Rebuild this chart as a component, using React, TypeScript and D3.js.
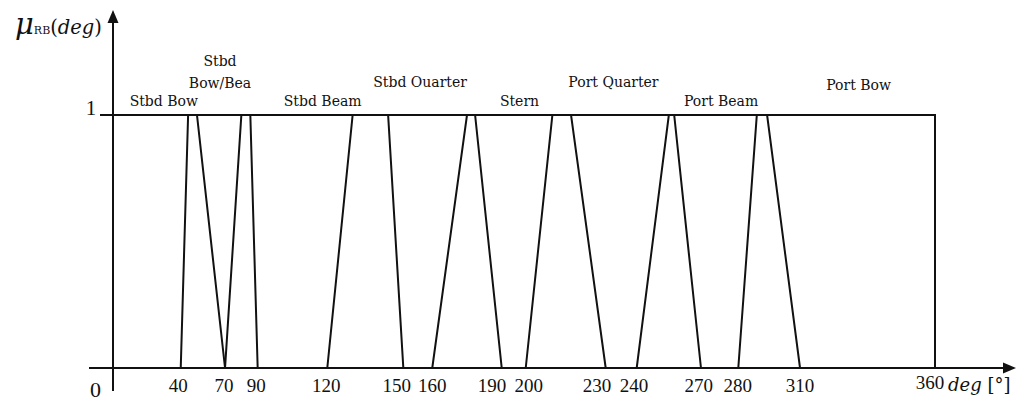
import React from 'react';
import * as d3 from 'd3';

// Relative-bearing fuzzy sets: trapezoids [a, b, c, d] in degrees
const setNames = ['Stbd Bow', 'Stbd Bow/Bea', 'Stbd Beam', 'Stbd Ouarter', 'Stern', 'Port Quarter', 'Port Beam', 'Port Bow'];
const footStart = [0, 40, 70, 120, 160, 200, 240, 280];
const shoulderStart = [0, 45, 80, 130, 175, 210, 255, 289];
const shoulderEnd = [51, 85.5, 144, 178.5, 217, 257.5, 294, 360];
const footEnd = [70, 90, 150, 190, 230, 270, 310, 360];

const tickValues = [40, 70, 90, 120, 150, 160, 190, 200, 230, 240, 270, 280, 310, 360];

// The schematic axis is not evenly spaced: fraction of the axis length at 0 and each tick
const axisStops = [0, 0.0824, 0.1363, 0.176, 0.2607, 0.3532, 0.3884, 0.4729, 0.5021, 0.5994, 0.6371, 0.7153, 0.7607, 0.8358, 1];
// Horizontal nudge (px) of each tick label so that close neighbours stay apart
const tickNudge = [-2.5, -1, -1.5, -1, -6.6, 0, -9.7, 3, -8.7, -2.7, -2.3, -0.6, 0, -5];

// Label placement: anchor (degrees), text lines, and height of the last line above μ = 1
const labelAnchor = [30, 66.6, 118, 155.8, 197.4, 232.5, 275.4, 331.7];
const labelLines = [['Stbd Bow'], ['Stbd', 'Bow/Bea'], ['Stbd Beam'], ['Stbd Ouarter'], ['Stern'], ['Port Quarter'], ['Port Beam'], ['Port Bow']];
const labelLift = [9, 27, 9, 28, 9, 28, 9, 25];

const W = 1032;
const H = 412;
const X0 = 113;
const X1 = 935;
const FONT = '"DejaVu Serif", serif';
const NUM_FONT = '"Liberation Serif", serif';
const INK = '#111';

export default function App() {
  const x = d3
    .scaleLinear()
    .domain([0, ...tickValues])
    .range(axisStops.map((f) => X0 + f * (X1 - X0)));
  const y = d3.scaleLinear().domain([0, 1]).range([368, 115]);

  const line = d3
    .line<[number, number]>()
    .x((d) => x(d[0]))
    .y((d) => y(d[1]));

  const shapes = setNames.map((name, i) => ({
    name,
    pts: [
      [footStart[i], 0],
      [shoulderStart[i], 1],
      [shoulderEnd[i], 1],
      [footEnd[i], 0],
    ] as [number, number][],
  }));

  const xAxisY = y(0);
  const xLeft = 89;
  const xTip = 1016;
  const yTop = 10;

  return (
    <svg
      width={W}
      height={H}
      viewBox={`0 0 ${W} ${H}`}
      style={{ position: 'absolute', left: 0, top: 0, display: 'block', background: '#fff' }}
    >
      <rect width={W} height={H} fill="#fff" />

      {/* axes */}
      <g stroke={INK} strokeWidth={2} fill="none">
        <line x1={xLeft} y1={xAxisY} x2={xTip - 10} y2={xAxisY} />
        <line x1={X0} y1={391} x2={X0} y2={yTop + 10} />
        <line x1={100} y1={y(1)} x2={X0} y2={y(1)} />
      </g>
      <path d={`M${xTip},${xAxisY} L${xTip - 13},${xAxisY - 5.5} L${xTip - 13},${xAxisY + 5.5} Z`} fill={INK} />
      <path d={`M${X0},${yTop} L${X0 - 5.5},${yTop + 13} L${X0 + 5.5},${yTop + 13} Z`} fill={INK} />

      {/* membership functions */}
      <g fill="none" stroke={INK} strokeWidth={2} strokeLinejoin="miter">
        {shapes.map((s) => (
          <path key={s.name} d={line(s.pts) ?? ''} />
        ))}
      </g>

      {/* set labels */}
      <g fontFamily={FONT} fontSize={14} fill={INK} textAnchor="middle">
        {setNames.map((name, i) => {
          const lines = labelLines[i];
          const base = y(1) - labelLift[i];
          return (
            <text key={name} x={x(labelAnchor[i])} y={base - (lines.length - 1) * 22}>
              {lines.map((t, j) => (
                <tspan key={j} x={x(labelAnchor[i])} dy={j === 0 ? 0 : 22}>
                  {t}
                </tspan>
              ))}
            </text>
          );
        })}
      </g>

      {/* tick labels */}
      <g fontFamily={NUM_FONT} fontSize={19} fill={INK} textAnchor="middle">
        {tickValues.map((v, i) => (
          <text key={v} x={x(v) + tickNudge[i]} y={v === 360 ? 389 : 392}>
            {v}
          </text>
        ))}
      </g>

      {/* origin and unit labels */}
      <text x={95.5} y={397} fontFamily={NUM_FONT} fontSize={22} textAnchor="middle" fill={INK}>
        0
      </text>
      <text x={91} y={115} fontFamily={NUM_FONT} fontSize={21} textAnchor="middle" fill={INK}>
        1
      </text>

      <text x={948} y={391} fontFamily={FONT} fontSize={18} fill={INK}>
        <tspan fontStyle="italic">deg</tspan>
        <tspan> [°]</tspan>
      </text>

      <text x={15} y={34} fontFamily={FONT} fill={INK}>
        <tspan fontSize={29} fontStyle="italic">μ</tspan>
        <tspan fontSize={11}>RB</tspan>
        <tspan fontSize={19.5}>(</tspan>
        <tspan fontSize={19.5} fontStyle="italic">deg</tspan>
        <tspan fontSize={19.5}>)</tspan>
      </text>
    </svg>
  );
}
